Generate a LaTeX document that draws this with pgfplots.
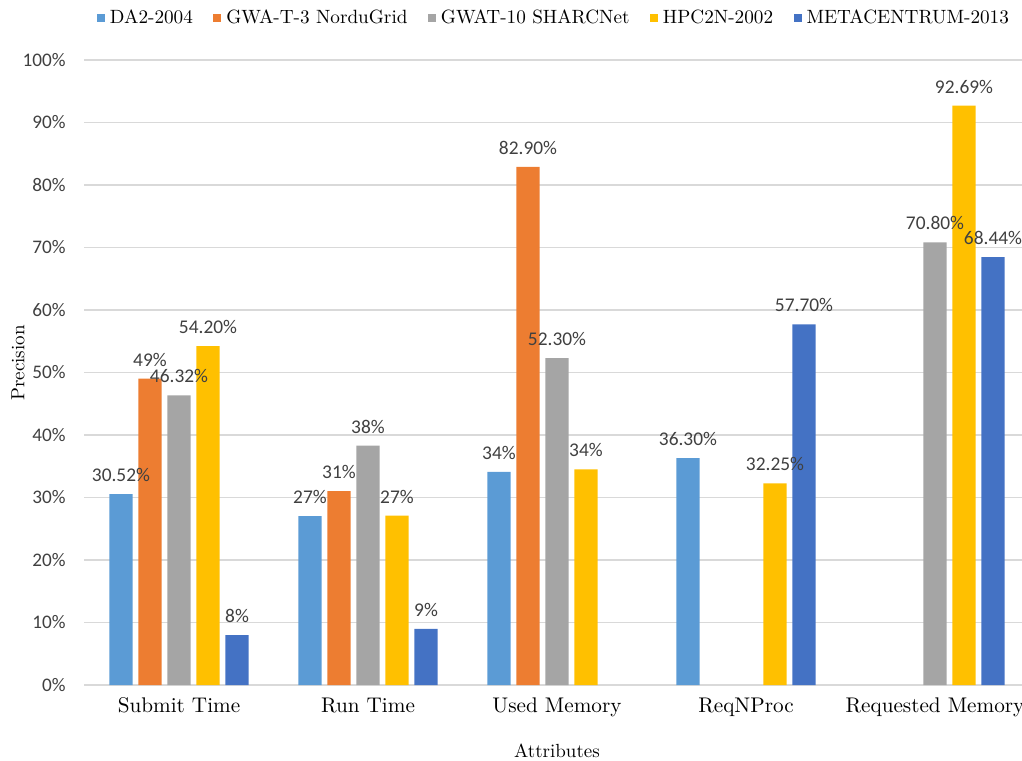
\documentclass[border=0pt]{standalone}
\usepackage{pgfplots}
\pgfplotsset{compat=1.18}
\usepackage{fontspec}
\newfontfamily\carlito{Carlito}
\definecolor{c1}{HTML}{5B9BD5}
\definecolor{c2}{HTML}{ED7D31}
\definecolor{c3}{HTML}{A5A5A5}
\definecolor{c4}{HTML}{FFC000}
\definecolor{c5}{HTML}{4472C4}
\definecolor{gridc}{HTML}{D9D9D9}
\definecolor{lbl}{HTML}{404040}
\pgfplotsset{
  mybar/.style={ybar, bar width=0.122, draw=none,
    legend image code/.code={\fill[##1,draw=none] (0pt,-2pt) rectangle (4pt,2pt);}},
  mylbl/.style={only marks, mark=none, forget plot,
    nodes near coords, point meta=explicit symbolic,
    every node near coord/.append style={font=\carlito\fontsize{9.7}{11}\selectfont, text=lbl, anchor=south, inner sep=0pt, yshift=6pt}},
}
\begin{document}
\begin{tikzpicture}
\begin{axis}[
  name=plot,
  scale only axis,
  width=472.5pt, height=312.5pt,
  xmin=-0.5, xmax=4.5, ymin=0, ymax=100,
  clip=false,
  axis line style={draw=none},
  major tick length=0pt,
  ymajorgrids, grid style={gridc, line width=0.6pt},
  xtick={0,1,2,3,4},
  xticklabels={Submit Time, Run Time, Used Memory, ReqNProc, Requested Memory},
  ytick={0,10,20,30,40,50,60,70,80,90,100},
  yticklabels={0\%,10\%,20\%,30\%,40\%,50\%,60\%,70\%,80\%,90\%,100\%},
  xticklabel style={font=\fontsize{10.6}{12}\selectfont, anchor=base, inner sep=0pt, yshift=-13.5pt},
  yticklabel style={font=\carlito\fontsize{9.6}{11}\selectfont, text=lbl, anchor=east, inner sep=0pt, xshift=-9.25pt},
  xlabel={Attributes}, ylabel={Precision},
  every axis x label/.style={at={(axis description cs:0.5,0)}, yshift=-33pt, anchor=center, font=\fontsize{9.5}{11}\selectfont},
  every axis y label/.style={at={(axis description cs:0,0.515)}, xshift=-33.25pt, rotate=90, anchor=center, font=\fontsize{9.5}{11}\selectfont},
  legend columns=5,
  legend cell align=left,
  legend style={at={(rel axis cs:0,1)}, anchor=west, xshift=6.25pt, yshift=21pt,
    draw=none, fill=none, inner sep=0pt, outer sep=0pt,
    font=\fontsize{9.6}{11}\selectfont,
    nodes={inner sep=0pt},
    /tikz/every odd column/.append style={column sep=2.5pt},
    /tikz/every even column/.append style={column sep=10.2pt}},
]
\addplot[mybar, bar shift=-0.307, fill=c1] coordinates {(0,30.52) (1,27) (2,34.1) (3,36.3)};
\addlegendentry{DA2-2004}
\addplot[mybar, bar shift=-0.1535, fill=c2] coordinates {(0,49) (1,31) (2,82.9)};
\addlegendentry{GWA-T-3 NorduGrid}
\addplot[mybar, bar shift=0, fill=c3] coordinates {(0,46.32) (1,38.3) (2,52.3) (4,70.8)};
\addlegendentry{GWAT-10 SHARCNet}
\addplot[mybar, bar shift=0.1535, fill=c4] coordinates {(0,54.2) (1,27.1) (2,34.5) (3,32.25) (4,92.69)};
\addlegendentry{HPC2N-2002}
\addplot[mybar, bar shift=0.307, fill=c5] coordinates {(0,8) (1,9) (3,57.7) (4,68.44)};
\addlegendentry{METACENTRUM-2013}
% data labels (centred over each bar)
\addplot[mylbl] coordinates {(-0.307,30.52) [30.52\%] (0.693,27) [27\%] (1.693,34.1) [34\%] (2.693,36.3) [36.30\%]};
\addplot[mylbl] coordinates {(-0.1535,49) [49\%] (0.8465,31) [31\%] (1.8465,82.9) [82.90\%]};
\addplot[mylbl] coordinates {(0,46.32) [46.32\%] (1,38.3) [38\%] (2,52.3) [52.30\%] (4,70.8) [70.80\%]};
\addplot[mylbl] coordinates {(0.1535,54.2) [54.20\%] (1.1535,27.1) [27\%] (2.1535,34.5) [34\%] (3.1535,32.25) [32.25\%] (4.1535,92.69) [92.69\%]};
\addplot[mylbl] coordinates {(0.307,8) [8\%] (1.307,9) [9\%] (3.307,57.7) [57.70\%] (4.307,68.44) [68.44\%]};
\end{axis}
\pgfresetboundingbox
\path[use as bounding box] ([xshift=-42.25pt,yshift=-37.5pt]plot.south west) rectangle ([xshift=468.75pt,yshift=342.5pt]plot.south west);
\end{tikzpicture}
\end{document}
